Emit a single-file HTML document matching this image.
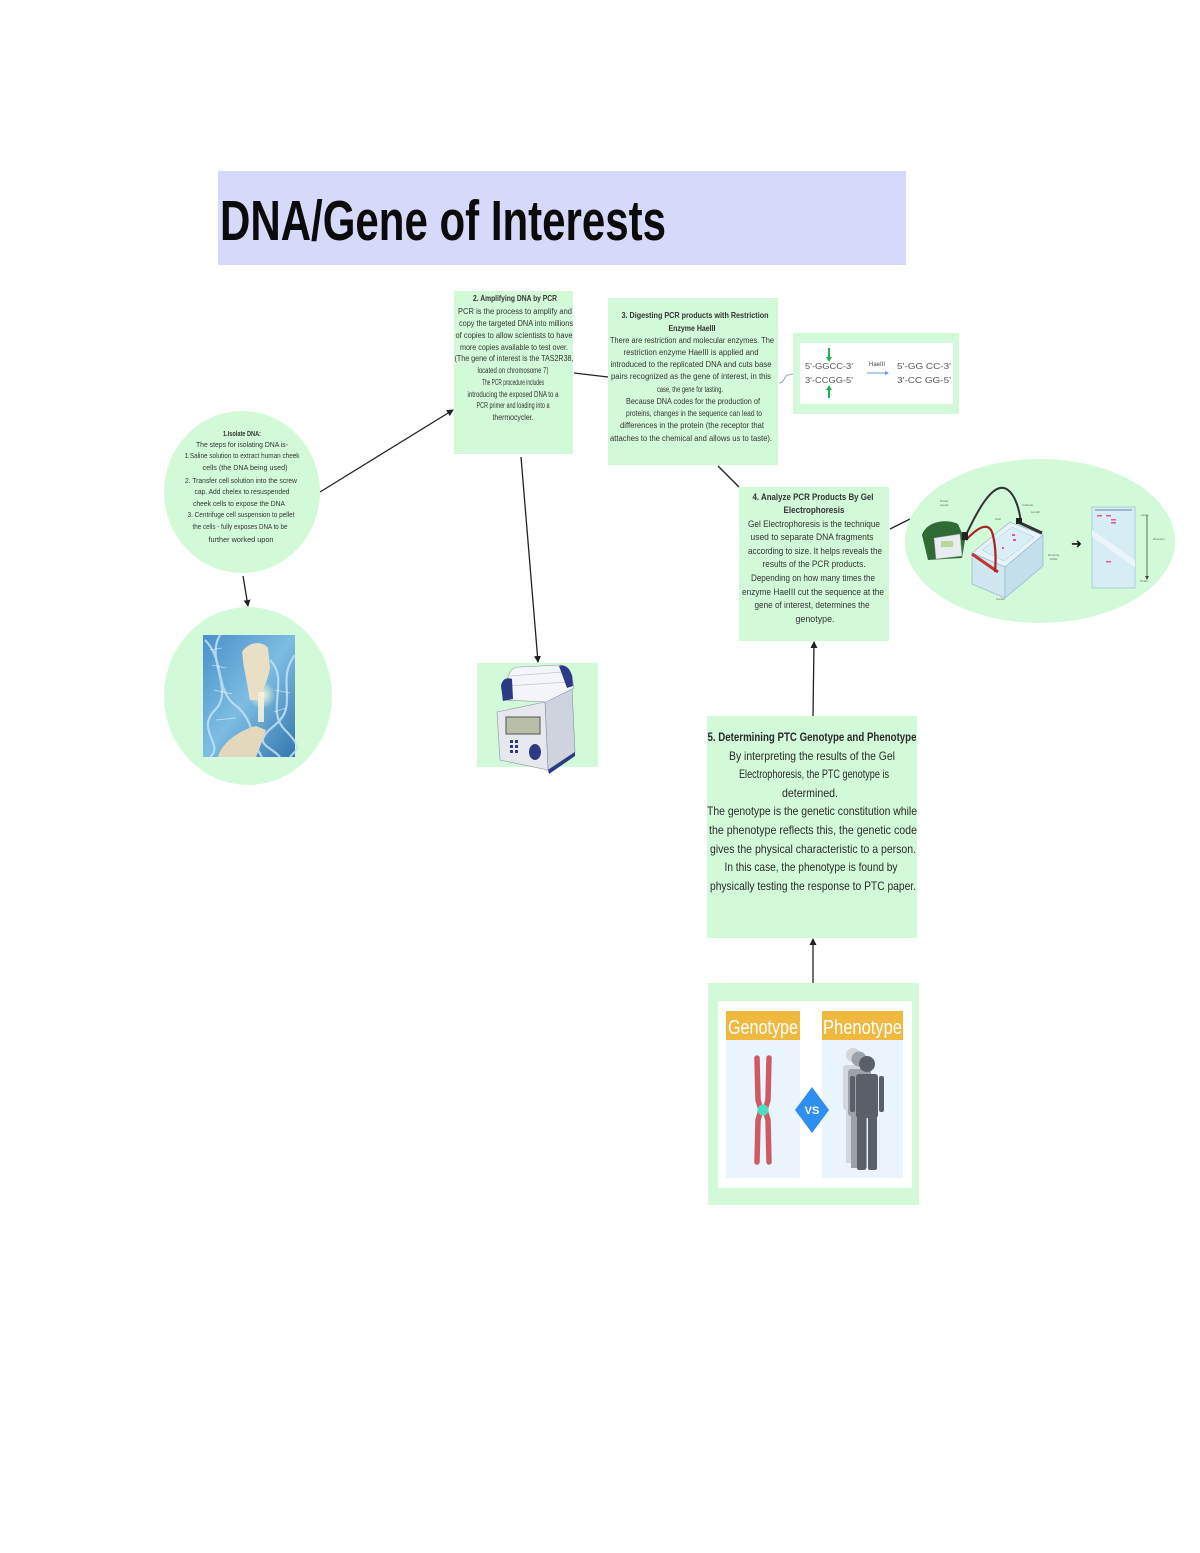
<!DOCTYPE html>
<html>
<head>
<meta charset="utf-8">
<style>
  html,body{margin:0;padding:0;background:#fff;}
  svg{display:block;}
  text{font-family:"Liberation Sans",sans-serif;}
</style>
</head>
<body>
<svg width="1200" height="1553" viewBox="0 0 1200 1553" xmlns="http://www.w3.org/2000/svg">
  <defs>
    <marker id="ah" markerWidth="7" markerHeight="7" refX="6" refY="3.5" orient="auto" markerUnits="userSpaceOnUse">
      <path d="M0,0 L7,3.5 L0,7 z" fill="#222"/>
    </marker>
    <linearGradient id="dnabg" x1="0" y1="0" x2="1" y2="1">
      <stop offset="0" stop-color="#4a90c8"/>
      <stop offset="0.5" stop-color="#7dbde3"/>
      <stop offset="1" stop-color="#3576ae"/>
    </linearGradient>
    <radialGradient id="glow" cx="0.5" cy="0.5" r="0.5">
      <stop offset="0" stop-color="#fff8d8"/>
      <stop offset="1" stop-color="#fff8d8" stop-opacity="0"/>
    </radialGradient>
  </defs>

  <!-- Title banner -->
  <rect x="218" y="171" width="688" height="94" fill="#d7d9fb"/>
  <text x="220" y="240" font-size="57" font-weight="bold" fill="#0b0b0b" textLength="446" lengthAdjust="spacingAndGlyphs">DNA/Gene of Interests</text>

  <!-- Connectors -->
  <g stroke="#222" stroke-width="1.3" fill="none">
    <line x1="320" y1="492" x2="453" y2="410" marker-end="url(#ah)"/>
    <line x1="243" y1="576" x2="248" y2="606" marker-end="url(#ah)"/>
    <line x1="521" y1="457" x2="538" y2="662" marker-end="url(#ah)"/>
    <line x1="574" y1="373" x2="608" y2="377"/>
    <line x1="718" y1="466" x2="739" y2="487"/>
    <line x1="890" y1="529" x2="910" y2="519"/>
    <line x1="813" y1="716" x2="814" y2="642" marker-end="url(#ah)"/>
    <line x1="813" y1="983" x2="813" y2="939" marker-end="url(#ah)"/>
  </g>
  <path d="M779,383 C785,383 784,375 788,375 L793,374" stroke="#9aa" stroke-width="1" fill="none"/>

  <!-- Circle 1 -->
  <ellipse cx="242" cy="492" rx="78" ry="81" fill="#d3fad8"/>
  <g fill="#333" font-size="7.5" text-anchor="middle">
    <text x="242" y="436" font-weight="bold" textLength="38" lengthAdjust="spacingAndGlyphs">1.Isolate DNA:</text>
    <text x="242" y="447" textLength="92" lengthAdjust="spacingAndGlyphs">The steps for isolating DNA is-</text>
    <text x="242" y="458" textLength="115" lengthAdjust="spacingAndGlyphs">1.Saline solution to extract human cheek</text>
    <text x="245" y="470" textLength="85" lengthAdjust="spacingAndGlyphs">cells (the DNA being used)</text>
    <text x="241" y="483" textLength="112" lengthAdjust="spacingAndGlyphs">2. Transfer cell solution into the screw</text>
    <text x="242" y="494" textLength="95" lengthAdjust="spacingAndGlyphs">cap. Add chelex to resuspended</text>
    <text x="239" y="506" textLength="92" lengthAdjust="spacingAndGlyphs">cheek cells to expose the DNA</text>
    <text x="241" y="517" textLength="107" lengthAdjust="spacingAndGlyphs">3. Centrifuge cell suspension to pellet</text>
    <text x="240" y="529" textLength="95" lengthAdjust="spacingAndGlyphs">the cells - fully exposes DNA to be</text>
    <text x="241" y="542" textLength="65" lengthAdjust="spacingAndGlyphs">further worked upon</text>
  </g>

  <!-- Circle 2 with DNA image -->
  <ellipse cx="248" cy="696" rx="84" ry="89" fill="#d3fad8"/>
  <rect x="203" y="635" width="92" height="122" fill="url(#dnabg)"/>
  <g stroke="#bfe3f7" stroke-width="2.2" fill="none" opacity="0.85">
    <path d="M205,640 C225,660 215,690 235,705 S250,740 262,757"/>
    <path d="M220,635 C205,660 235,690 215,710 S225,745 210,757"/>
    <path d="M270,660 C290,680 265,710 285,730 S295,750 290,757"/>
    <path d="M295,655 C275,680 300,705 275,725 S270,745 280,757"/>
  </g>
  <g stroke="#e8f6ff" stroke-width="0.8" opacity="0.7">
    <line x1="210" y1="650" x2="222" y2="648"/><line x1="212" y1="665" x2="226" y2="668"/>
    <line x1="214" y1="690" x2="232" y2="694"/><line x1="216" y1="720" x2="236" y2="718"/>
    <line x1="275" y1="690" x2="290" y2="693"/><line x1="274" y1="712" x2="286" y2="708"/>
  </g>
  <circle cx="262" cy="695" r="14" fill="url(#glow)"/>
  <path d="M242,652 C248,642 262,640 268,648 L270,668 C268,680 262,692 258,700 L250,700 C248,690 246,676 244,668 Z" fill="#e9dfc4"/>
  <rect x="258" y="692" width="6" height="30" fill="#f5efdc" opacity="0.9"/>
  <path d="M218,757 C222,742 240,730 256,726 L266,730 C262,742 258,752 256,757 Z" fill="#e4d8bc"/>

  <!-- Box 2 -->
  <rect x="454" y="291" width="119" height="163" fill="#d3fad8"/>
  <g fill="#333" font-size="8" text-anchor="middle">
    <text x="515" y="301" font-weight="bold" textLength="84" lengthAdjust="spacingAndGlyphs">2. Amplifying DNA by PCR</text>
    <text x="515" y="314" textLength="114" lengthAdjust="spacingAndGlyphs">PCR is the process to amplify and</text>
    <text x="516" y="326" textLength="114" lengthAdjust="spacingAndGlyphs">copy the targeted DNA into millions</text>
    <text x="514" y="338" textLength="117" lengthAdjust="spacingAndGlyphs">of copies to allow scientists to have</text>
    <text x="514" y="350" textLength="108" lengthAdjust="spacingAndGlyphs">more copies available to test over.</text>
    <text x="514" y="361" textLength="119" lengthAdjust="spacingAndGlyphs">(The gene of interest is the TAS2R38,</text>
    <text x="513" y="373" textLength="71" lengthAdjust="spacingAndGlyphs">located on chromosome 7)</text>
    <text x="513" y="385" textLength="62" lengthAdjust="spacingAndGlyphs">The PCR procedure includes</text>
    <text x="513" y="397" textLength="91" lengthAdjust="spacingAndGlyphs">introducing the exposed DNA to a</text>
    <text x="513" y="408" textLength="73" lengthAdjust="spacingAndGlyphs">PCR primer and loading into a</text>
    <text x="513" y="420" textLength="41" lengthAdjust="spacingAndGlyphs">thermocycler.</text>
  </g>

  <!-- Box 3 -->
  <rect x="608" y="298" width="170" height="167" fill="#d3fad8"/>
  <g fill="#333" font-size="8" text-anchor="middle">
    <text x="695" y="318" font-weight="bold" textLength="147" lengthAdjust="spacingAndGlyphs">3. Digesting PCR products with Restriction</text>
    <text x="692" y="331" font-weight="bold" textLength="47" lengthAdjust="spacingAndGlyphs">Enzyme HaeIII</text>
    <text x="692" y="343" textLength="164" lengthAdjust="spacingAndGlyphs">There are restriction and molecular enzymes. The</text>
    <text x="691" y="355" textLength="135" lengthAdjust="spacingAndGlyphs">restriction enzyme HaeIII is applied and</text>
    <text x="691" y="367" textLength="161" lengthAdjust="spacingAndGlyphs">introduced to the replicated DNA and cuts base</text>
    <text x="691" y="379" textLength="160" lengthAdjust="spacingAndGlyphs">pairs recognized as the gene of interest, in this</text>
    <text x="690" y="392" textLength="66" lengthAdjust="spacingAndGlyphs">case, the gene for tasting.</text>
    <text x="693" y="404" textLength="134" lengthAdjust="spacingAndGlyphs">Because DNA codes for the production of</text>
    <text x="694" y="416" textLength="136" lengthAdjust="spacingAndGlyphs">proteins, changes in the sequence can lead to</text>
    <text x="692" y="428" textLength="144" lengthAdjust="spacingAndGlyphs">differences in the protein (the receptor that</text>
    <text x="691" y="441" textLength="162" lengthAdjust="spacingAndGlyphs">attaches to the chemical and allows us to taste).</text>
  </g>

  <!-- Enzyme image box -->
  <rect x="793" y="333" width="166" height="81" fill="#d3fad8"/>
  <rect x="800" y="343" width="153" height="61" fill="#ffffff"/>
  <g fill="#555" font-size="8" font-family="Liberation Mono, monospace">
    <text x="805" y="369" textLength="48" lengthAdjust="spacingAndGlyphs">5'-GGCC-3'</text>
    <text x="805" y="383" textLength="48" lengthAdjust="spacingAndGlyphs">3'-CCGG-5'</text>
    <text x="897" y="369" textLength="54" lengthAdjust="spacingAndGlyphs">5'-GG  CC-3'</text>
    <text x="897" y="383" textLength="54" lengthAdjust="spacingAndGlyphs">3'-CC  GG-5'</text>
  </g>
  <text x="869" y="366" font-size="6" fill="#444" textLength="16" lengthAdjust="spacingAndGlyphs">HaeIII</text>
  <line x1="867" y1="373" x2="885" y2="373" stroke="#6f93d8" stroke-width="1"/>
  <path d="M885,371 L889,373 L885,375 z" fill="#6f93d8"/>
  <line x1="829" y1="348" x2="829" y2="358" stroke="#22b14c" stroke-width="2"/>
  <path d="M826,357 L829,362 L832,357 z" fill="#22b14c"/>
  <line x1="829" y1="398" x2="829" y2="389" stroke="#22b14c" stroke-width="2"/>
  <path d="M826,390 L829,385 L832,390 z" fill="#22b14c"/>

  <!-- Gel ellipse -->
  <ellipse cx="1040" cy="541" rx="135" ry="82" fill="#d3fad8"/>
  <!-- power supply -->
  <path d="M922,535 C926,522 945,518 958,524 L965,540 L962,558 L928,560 Z" fill="#2f6b35"/>
  <path d="M934,538 L960,534 L962,556 L936,559 Z" fill="#e9ecef" stroke="#999" stroke-width="0.5"/>
  <rect x="941" y="541" width="12" height="6" fill="#b9d79a"/>
  <!-- gel tank -->
  <polygon points="972,553 1010,522 1043,535 1005,567" fill="#e6f3f8" stroke="#9bbccc" stroke-width="0.8"/>
  <polygon points="972,553 1005,567 1005,598 972,584" fill="#cfe7f1" stroke="#9bbccc" stroke-width="0.8"/>
  <polygon points="1005,567 1043,535 1043,566 1005,598" fill="#c2dfeb" stroke="#9bbccc" stroke-width="0.8"/>
  <polygon points="982,550 1012,527 1034,537 1004,561" fill="#d9eef5" stroke="#a8c8d6" stroke-width="0.5"/>
  <line x1="972" y1="554" x2="998" y2="572" stroke="#c53030" stroke-width="3"/>
  <line x1="1018" y1="522" x2="1042" y2="533" stroke="#333" stroke-width="3"/>
  <path d="M966,535 C980,505 995,480 1008,490 C1016,496 1020,512 1021,524" stroke="#333" stroke-width="2" fill="none"/>
  <path d="M966,540 C978,527 988,522 992,532 C996,545 996,560 995,572" stroke="#a82222" stroke-width="2.2" fill="none"/>
  <rect x="962" y="532" width="6" height="8" fill="#222"/>
  <rect x="1016" y="518" width="6" height="6" fill="#222"/>
  <g fill="#e0589a">
    <rect x="1012" y="534" width="3" height="2"/><rect x="1013" y="539" width="3" height="2"/><rect x="1002" y="547" width="2" height="2"/>
  </g>
  <g font-size="3" fill="#666">
    <text x="940" y="502">Power</text><text x="940" y="506">supply</text>
    <text x="1022" y="506">Cathode</text><text x="1031" y="513">Length</text>
    <text x="995" y="520">Well</text><text x="1048" y="556">Running</text><text x="1050" y="560">buffer</text>
    <text x="996" y="600">Anode</text>
    <text x="1141" y="516">Large</text><text x="1153" y="540">Direction</text><text x="1140" y="582">Small</text>
  </g>
  <text x="1071" y="548" font-size="13" fill="#111">➜</text>
  <!-- gel plate -->
  <rect x="1092" y="507" width="43" height="81" fill="#d6edf4" stroke="#9fc7d5" stroke-width="0.8"/>
  <polygon points="1092,530 1135,560 1135,567 1092,537" fill="#eaf6fa"/>
  <g fill="#e0589a">
    <rect x="1097" y="515" width="5" height="1.5"/><rect x="1106" y="515" width="5" height="1.5"/>
    <rect x="1111" y="519" width="5" height="1.5"/><rect x="1111" y="522" width="5" height="1.5"/>
    <rect x="1106" y="561" width="5" height="1.5"/>
  </g>
  <g fill="#9fb8cc"><rect x="1095" y="509" width="37" height="2"/></g>
  <line x1="1147" y1="515" x2="1147" y2="578" stroke="#444" stroke-width="0.8"/>
  <path d="M1145,576 L1147,580 L1149,576 z" fill="#444"/>

  <!-- Box 4 -->
  <rect x="739" y="487" width="150" height="154" fill="#d3fad8"/>
  <g fill="#333" font-size="9" text-anchor="middle">
    <text x="813" y="500" font-weight="bold" textLength="121" lengthAdjust="spacingAndGlyphs">4. Analyze PCR Products By Gel</text>
    <text x="814" y="513" font-weight="bold" textLength="61" lengthAdjust="spacingAndGlyphs">Electrophoresis</text>
    <text x="814" y="527" textLength="132" lengthAdjust="spacingAndGlyphs">Gel Electrophoresis is the technique</text>
    <text x="812" y="540" textLength="123" lengthAdjust="spacingAndGlyphs">used to separate DNA fragments</text>
    <text x="815" y="554" textLength="134" lengthAdjust="spacingAndGlyphs">according to size. It helps reveals the</text>
    <text x="814" y="567" textLength="103" lengthAdjust="spacingAndGlyphs">results of the PCR products.</text>
    <text x="813" y="581" textLength="124" lengthAdjust="spacingAndGlyphs">Depending on how many times the</text>
    <text x="813" y="595" textLength="142" lengthAdjust="spacingAndGlyphs">enzyme HaeIII cut the sequence at the</text>
    <text x="812" y="608" textLength="115" lengthAdjust="spacingAndGlyphs">gene of interest, determines the</text>
    <text x="815" y="622" textLength="39" lengthAdjust="spacingAndGlyphs">genotype.</text>
  </g>

  <!-- Thermocycler -->
  <rect x="477" y="663" width="121" height="104" fill="#d3fad8"/>
  <polygon points="545,702 572,688 575,752 548,770" fill="#cfd3de" stroke="#8a90a6" stroke-width="0.6"/>
  <polygon points="497,712 545,702 548,770 500,760" fill="#e6e8ee" stroke="#8a90a6" stroke-width="0.6"/>
  <polygon points="548,770 575,752 575,756 549,774" fill="#2b3a86"/>
  <path d="M503,690 L510,672 C512,668 516,667 520,667 L560,665 C566,665 570,670 572,676 L574,688 L546,702 L503,700 Z" fill="#f4f5f8" stroke="#8a90a6" stroke-width="0.6"/>
  <path d="M510,676 L562,672 M506,686 L568,682" stroke="#c4c8d4" stroke-width="0.8" fill="none"/>
  <path d="M501,686 C502,679 507,677 512,679 L513,699 L503,701 Z" fill="#2b3a86"/>
  <path d="M559,666 C565,664 570,668 572,676 L573,686 L567,688 Z" fill="#2b3a86"/>
  <rect x="506" y="717" width="34" height="17" fill="#b9bea6" stroke="#555" stroke-width="1"/>
  <g fill="#2b3a86">
    <rect x="510" y="740" width="3" height="3"/><rect x="515" y="740" width="3" height="3"/>
    <rect x="510" y="745" width="3" height="3"/><rect x="515" y="745" width="3" height="3"/>
    <rect x="510" y="750" width="3" height="3"/><rect x="515" y="750" width="3" height="3"/>
  </g>
  <ellipse cx="535" cy="752" rx="6" ry="8" fill="#2b3a86"/>

  <!-- Box 5 -->
  <rect x="707" y="716" width="210" height="222" fill="#d3fad8"/>
  <g fill="#2a2a2a" font-size="12" text-anchor="middle">
    <text x="812" y="741" font-weight="bold" textLength="209" lengthAdjust="spacingAndGlyphs">5. Determining PTC Genotype and Phenotype</text>
    <text x="812" y="760" textLength="166" lengthAdjust="spacingAndGlyphs">By interpreting the results of the Gel</text>
    <text x="814" y="778" textLength="150" lengthAdjust="spacingAndGlyphs">Electrophoresis, the PTC genotype is</text>
    <text x="810" y="797" textLength="56" lengthAdjust="spacingAndGlyphs">determined.</text>
    <text x="812" y="815" textLength="210" lengthAdjust="spacingAndGlyphs">The genotype is the genetic constitution while</text>
    <text x="813" y="834" textLength="208" lengthAdjust="spacingAndGlyphs">the phenotype reflects this, the genetic code</text>
    <text x="813" y="853" textLength="206" lengthAdjust="spacingAndGlyphs">gives the physical characteristic to a person.</text>
    <text x="811" y="871" textLength="173" lengthAdjust="spacingAndGlyphs">In this case, the phenotype is found by</text>
    <text x="813" y="890" textLength="206" lengthAdjust="spacingAndGlyphs">physically testing the response to PTC paper.</text>
  </g>

  <!-- Genotype / Phenotype image -->
  <rect x="708" y="983" width="211" height="222" fill="#d3fad8"/>
  <rect x="718" y="1001" width="194" height="187" fill="#ffffff"/>
  <rect x="726" y="1011" width="74" height="167" fill="#eaf4fd"/>
  <rect x="822" y="1011" width="81" height="167" fill="#eaf4fd"/>
  <rect x="726" y="1011" width="74" height="29" fill="#efb940"/>
  <rect x="822" y="1011" width="81" height="29" fill="#efb940"/>
  <text x="728" y="1034" font-size="20" fill="#ffffff" textLength="70" lengthAdjust="spacingAndGlyphs">Genotype</text>
  <text x="823" y="1034" font-size="20" fill="#ffffff" textLength="79" lengthAdjust="spacingAndGlyphs">Phenotype</text>
  <!-- chromosome -->
  <g stroke="#cf5a63" stroke-width="5.5" stroke-linecap="round" fill="none">
    <path d="M757,1058 L758,1100 L761,1110 L758,1120 L757,1162"/>
    <path d="M769,1058 L768,1100 L765,1110 L768,1120 L769,1162"/>
  </g>
  <circle cx="763" cy="1110" r="5.5" fill="#4fdcc0"/>
  <!-- VS diamond -->
  <polygon points="812,1087 829,1110 812,1133 795,1110" fill="#2e8ff0"/>
  <text x="812" y="1114" font-size="11" font-weight="bold" fill="#ffffff" text-anchor="middle">VS</text>
  <!-- people -->
  <g fill="#d3d6da">
    <circle cx="853" cy="1055" r="7"/>
    <rect x="843" y="1065" width="22" height="45" rx="3"/>
    <rect x="846" y="1105" width="15" height="58"/>
  </g>
  <g fill="#9da1a8">
    <circle cx="859" cy="1059" r="7.5"/>
    <rect x="848" y="1069" width="23" height="47" rx="3"/>
    <rect x="851" y="1110" width="16" height="58"/>
  </g>
  <g fill="#5b5f67">
    <circle cx="867" cy="1064" r="8"/>
    <rect x="856" y="1074" width="22" height="44" rx="3"/>
    <rect x="850" y="1076" width="5" height="36" rx="2"/>
    <rect x="879" y="1076" width="5" height="36" rx="2"/>
    <rect x="857" y="1114" width="9" height="56" rx="2"/>
    <rect x="868" y="1114" width="9" height="56" rx="2"/>
  </g>
</svg>
</body>
</html>
